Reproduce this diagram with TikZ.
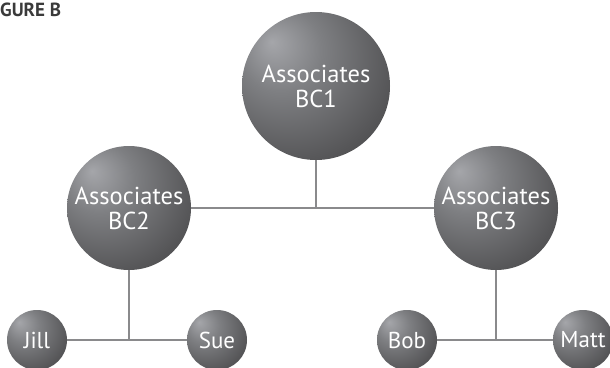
\documentclass[tikz,border=0pt]{standalone}
\usepackage{fontspec}
\setmainfont{PT Sans}
\usetikzlibrary{positioning}

\definecolor{orbhigh}{HTML}{A5A6AA}
\definecolor{orbmid}{HTML}{7E7F82}
\definecolor{orblow}{HTML}{555557}
\definecolor{orbdark}{HTML}{333334}
\definecolor{linkgray}{HTML}{8A8A8C}
\definecolor{titlegray}{HTML}{3A3A3A}

\pgfdeclareradialshading{orb}{\pgfpoint{-15bp}{15bp}}{%
  color(0bp)=(orbhigh); color(14bp)=(orbmid); color(34bp)=(orblow);
  color(56bp)=(orbdark); color(70bp)=(orbdark)}

\tikzset{
  orb/.style={circle, shade, shading=orb, text=white, align=center, inner sep=0pt},
  bigorb/.style={orb, minimum size=148pt, font=\fontsize{24.5}{25}\selectfont},
  midorb/.style={orb, minimum size=124pt, font=\fontsize{24.5}{25}\selectfont},
  smallorb/.style={orb, minimum size=60pt, font=\fontsize{23}{24}\selectfont},
  link/.style={draw=linkgray, line width=2pt}
}

\begin{document}
\begin{tikzpicture}[x=1pt, y=-1pt]
  \useasboundingbox (0,0) rectangle (610,367);
  % title, in the top left corner
  \node[anchor=north west, inner sep=0pt, text=titlegray,
        font=\bfseries\fontsize{19}{19}\selectfont] (title) at (0,2.5) {GURE B};

  % the three associates
  \node[bigorb] (bcone)   at (316,86)  {Associates\\BC1};
  \node[midorb] (bctwo)   at (129,208) {Associates\\BC2};
  \node[midorb] (bcthree) at (496,208) {Associates\\BC3};

  % the people
  \node[smallorb] (jill) at (37,340)  {Jill};
  \node[smallorb] (sue)  at (217,340) {Sue};
  \node[smallorb] (bob)  at (407,340) {Bob};
  \node[smallorb] (matt) at (583,340) {Matt};

  % links
  \draw[link] (bctwo) -- (bcthree);
  \draw[link] (bcone) -- (bcone |- bctwo);
  \foreach \top/\left/\right in {bctwo/jill/sue, bcthree/bob/matt}{%
    \draw[link] (\left) -- (\right);
    \draw[link] (\top) -- (\top |- \left);
  }
\end{tikzpicture}
\end{document}
